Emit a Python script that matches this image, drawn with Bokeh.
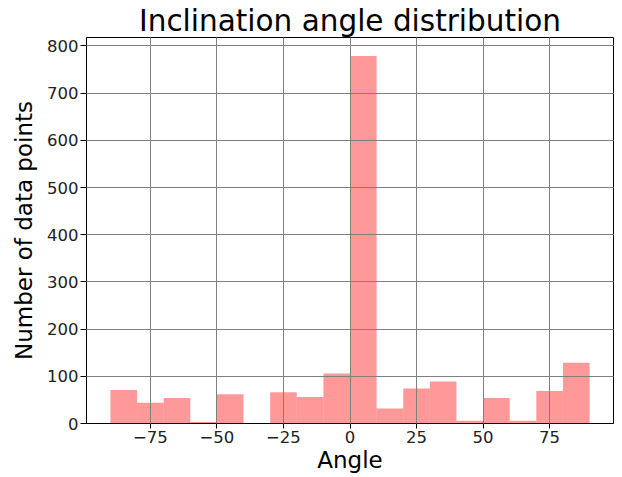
from bokeh.plotting import figure
from bokeh.models import Range1d, FixedTicker
from bokeh.embed import file_html
from bokeh.resources import INLINE

# Histogram data (bins of width 10 from -90 to 90)
bin_edges = [-90, -80, -70, -60, -50, -40, -30, -20, -10, 0, 10, 20, 30, 40, 50, 60, 70, 80, 90]
counts = [71, 44, 54, 3, 62, 0, 66, 56, 106, 779, 32, 74, 89, 6, 54, 6, 69, 129]

x_ticks = [-75, -50, -25, 0, 25, 50, 75]
x_tick_labels = ["\u221275", "\u221250", "\u221225", "0", "25", "50", "75"]
y_ticks = [0, 100, 200, 300, 400, 500, 600, 700, 800]

FONT = "DejaVu Sans"

p = figure(width=620, height=475, output_backend="svg", toolbar_location=None,
           x_range=Range1d(-99, 99), y_range=Range1d(0, 818),
           title="Inclination angle distribution")

p.min_border_left = 86
p.min_border_right = 7
p.min_border_top = 37
p.min_border_bottom = 51

p.quad(left=bin_edges[:-1], right=bin_edges[1:], top=counts, bottom=0,
       fill_color="red", fill_alpha=0.4, line_color=None)

p.title.text_font = FONT
p.title.text_font_size = "29.5px"
p.title.text_font_style = "normal"
p.title.align = "center"
p.title.text_color = "black"
p.title.standoff = 0

p.xaxis.ticker = FixedTicker(ticks=x_ticks)
p.xaxis.major_label_overrides = dict(zip(x_ticks, x_tick_labels))
p.yaxis.ticker = FixedTicker(ticks=y_ticks)

p.xaxis.axis_label = "Angle"
p.yaxis.axis_label = "Number of data points"

for ax in (p.xaxis, p.yaxis):
    ax.axis_label_text_font = FONT
    ax.axis_label_text_font_size = "23px"
    ax.axis_label_text_font_style = "normal"
    ax.axis_label_text_color = "black"
    ax.major_label_text_font = FONT
    ax.major_label_text_font_size = "16.5px"
    ax.major_label_text_color = "#222222"
    ax.axis_line_color = "black"
    ax.major_tick_line_color = "black"
    ax.major_tick_in = 0
    ax.major_tick_out = 5
    ax.minor_tick_line_color = None
    ax.major_label_standoff = 2
    ax.axis_label_standoff = 1

p.yaxis.major_tick_out = 6
p.yaxis.major_label_standoff = 2
p.yaxis.axis_label_standoff = 7

p.outline_line_color = "black"
p.outline_line_alpha = 1

for g in (p.xgrid, p.ygrid):
    g.grid_line_color = "gray"
    g.grid_line_width = 1
    g.level = "overlay"
p.xgrid.ticker = FixedTicker(ticks=x_ticks)
p.ygrid.ticker = FixedTicker(ticks=y_ticks)

p.background_fill_color = "white"
p.border_fill_color = "white"

open("out.html", "w").write(file_html(p, INLINE))
